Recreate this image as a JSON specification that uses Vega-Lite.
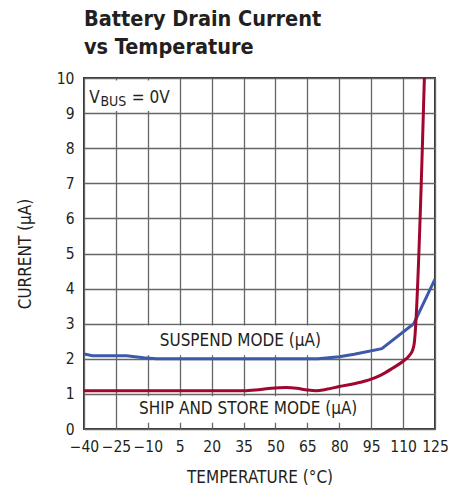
{
  "$schema": "https://vega.github.io/schema/vega-lite/v6.json",
  "width": 351,
  "height": 351,
  "autosize": "none",
  "padding": {"left": 84, "top": 78, "right": 29, "bottom": 62},
  "background": "white",
  "title": {
    "text": ["Battery Drain Current", "vs Temperature"],
    "anchor": "start",
    "frame": "group",
    "font": "DejaVu Sans Condensed",
    "fontSize": 21.5,
    "fontWeight": "bold",
    "color": "#231f20",
    "lineHeight": 27.5,
    "offset": 13
  },
  "config": {
    "view": {"stroke": "#333333", "strokeWidth": 2},
    "font": "DejaVu Sans Condensed",
    "axis": {
      "grid": true,
      "gridColor": "#666666",
      "gridWidth": 1.3,
      "gridOpacity": 1,
      "domain": false,
      "ticks": false,
      "labelFont": "DejaVu Sans Condensed",
      "labelFontSize": 15.5,
      "labelColor": "#231f20",
      "labelOverlap": false,
      "labelFlush": false,
      "titleFont": "DejaVu Sans Condensed",
      "titleFontSize": 17,
      "titleFontWeight": "normal",
      "titleColor": "#231f20"
    }
  },
  "datasets": {
    "curves": [
      {"series": "Suspend", "temp": -40, "current": 2.14},
      {"series": "Suspend", "temp": -36, "current": 2.09},
      {"series": "Suspend", "temp": -20, "current": 2.09},
      {"series": "Suspend", "temp": -12, "current": 2.03},
      {"series": "Suspend", "temp": -6, "current": 2.0},
      {"series": "Suspend", "temp": 70, "current": 2.0},
      {"series": "Suspend", "temp": 75, "current": 2.03},
      {"series": "Suspend", "temp": 80, "current": 2.06},
      {"series": "Suspend", "temp": 87, "current": 2.13},
      {"series": "Suspend", "temp": 100, "current": 2.29},
      {"series": "Suspend", "temp": 115, "current": 3.0},
      {"series": "Suspend", "temp": 125, "current": 4.27},
      {"series": "Ship", "temp": -40, "current": 1.09},
      {"series": "Ship", "temp": -20, "current": 1.09},
      {"series": "Ship", "temp": 0, "current": 1.09},
      {"series": "Ship", "temp": 20, "current": 1.09},
      {"series": "Ship", "temp": 35, "current": 1.09},
      {"series": "Ship", "temp": 42, "current": 1.12},
      {"series": "Ship", "temp": 48, "current": 1.16},
      {"series": "Ship", "temp": 55, "current": 1.18},
      {"series": "Ship", "temp": 60, "current": 1.16},
      {"series": "Ship", "temp": 65, "current": 1.11},
      {"series": "Ship", "temp": 69, "current": 1.09},
      {"series": "Ship", "temp": 74, "current": 1.13},
      {"series": "Ship", "temp": 80, "current": 1.21},
      {"series": "Ship", "temp": 90, "current": 1.33},
      {"series": "Ship", "temp": 96, "current": 1.44},
      {"series": "Ship", "temp": 100, "current": 1.55},
      {"series": "Ship", "temp": 105, "current": 1.73},
      {"series": "Ship", "temp": 110, "current": 1.93},
      {"series": "Ship", "temp": 113, "current": 2.1},
      {"series": "Ship", "temp": 114.5, "current": 2.25},
      {"series": "Ship", "temp": 115.2, "current": 2.42},
      {"series": "Ship", "temp": 120, "current": 10}
    ],
    "boxes": [
      {"temp": -39.2, "temp2": 0, "current": 9.06, "current2": 9.93},
      {"temp": -12, "temp2": 78, "current": 2.1, "current2": 2.95},
      {"temp": -17, "temp2": 90, "current": 0.18, "current2": 0.93}
    ],
    "labels": [
      {"kind": "main", "text": "SUSPEND MODE (µA)", "temp": 33.5, "current": 2.5},
      {"kind": "main", "text": "SHIP AND STORE MODE (µA)", "temp": 37.2, "current": 0.57}
    ],
    "vbus": [
      {"kind": "base", "text": "V", "temp": -37.5, "current": 9.3},
      {"kind": "sub", "text": "BUS", "temp": -32.3, "current": 9.2},
      {"kind": "base", "text": "= 0V", "temp": -17.5, "current": 9.3}
    ]
  },
  "encoding": {
    "x": {
      "field": "temp",
      "type": "quantitative",
      "scale": {"domain": [-40, 125], "nice": false, "zero": false},
      "axis": {
        "values": [-40, -25, -10, 5, 20, 35, 50, 65, 80, 95, 110, 125],
        "title": "TEMPERATURE (°C)",
        "labelPadding": 10,
        "titlePadding": 15
      }
    },
    "y": {
      "field": "current",
      "type": "quantitative",
      "scale": {"domain": [0, 10], "nice": false},
      "axis": {
        "values": [0, 1, 2, 3, 4, 5, 6, 7, 8, 9, 10],
        "title": "CURRENT (µA)",
        "labelPadding": 10,
        "titlePadding": 22
      }
    }
  },
  "layer": [
    {
      "data": {"name": "boxes"},
      "mark": {"type": "rect", "fill": "white", "stroke": null},
      "encoding": {
        "x2": {"field": "temp2"},
        "y2": {"field": "current2"}
      }
    },
    {
      "data": {"name": "curves"},
      "transform": [{"filter": "datum.series === 'Suspend'"}],
      "mark": {"type": "line", "color": "#3b5ba8", "strokeWidth": 3, "clip": true},
      "encoding": {}
    },
    {
      "data": {"name": "curves"},
      "transform": [{"filter": "datum.series === 'Ship'"}],
      "mark": {"type": "line", "color": "#a0062e", "strokeWidth": 3, "interpolate": "monotone", "clip": true},
      "encoding": {}
    },
    {
      "data": {"name": "labels"},
      "mark": {"type": "text", "font": "DejaVu Sans Condensed", "fontSize": 17, "color": "#231f20", "align": "center", "baseline": "middle"},
      "encoding": {"text": {"field": "text"}}
    },
    {
      "data": {"name": "vbus"},
      "transform": [{"filter": "datum.kind === 'base'"}],
      "mark": {"type": "text", "font": "DejaVu Sans Condensed", "fontSize": 17, "color": "#231f20", "align": "left", "baseline": "alphabetic"},
      "encoding": {"text": {"field": "text"}}
    },
    {
      "data": {"name": "vbus"},
      "transform": [{"filter": "datum.kind === 'sub'"}],
      "mark": {"type": "text", "font": "DejaVu Sans Condensed", "fontSize": 14, "color": "#231f20", "align": "left", "baseline": "alphabetic"},
      "encoding": {"text": {"field": "text"}}
    }
  ]
}
